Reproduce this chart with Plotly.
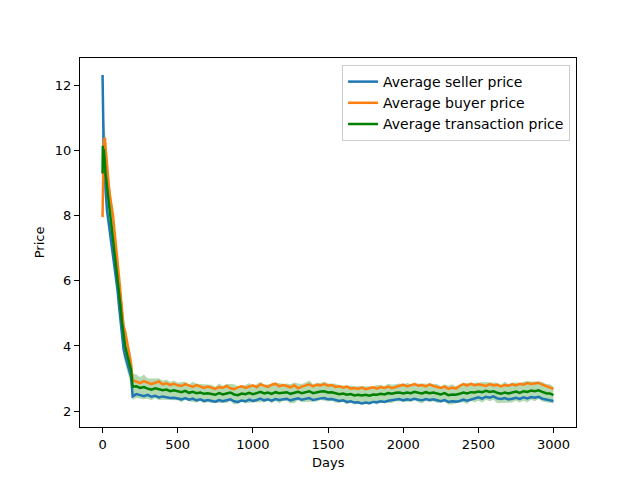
import plotly.graph_objects as go

# Day index of each sample (early descent sampled finer than the plateau)
days = [0, 2, 4, 8, 12, 16, 20] + list(range(30, 201, 10)) + list(range(225, 2976, 25)) + [2999]

seller_price = [
    12.33, 11.4, 10.4, 9.9, 9.6, 9.1, 8.8,
    8.15, 7.8, 7.5, 7.15, 6.85, 6.5, 6.15, 5.7, 5.2, 4.75, 4.3, 3.9, 3.7, 3.5, 3.35, 3.2, 3.05, 2.45,
    2.52, 2.48, 2.46, 2.50, 2.44, 2.47, 2.42, 2.45, 2.43, 2.40,
    2.41, 2.38, 2.36, 2.40, 2.35, 2.38, 2.33, 2.36, 2.31, 2.34,
    2.32, 2.29, 2.34, 2.30, 2.33, 2.36, 2.30, 2.28, 2.32, 2.30,
    2.35, 2.31, 2.34, 2.38, 2.33, 2.36, 2.32, 2.37, 2.34, 2.36,
    2.38, 2.33, 2.36, 2.39, 2.35, 2.38, 2.40, 2.34, 2.37, 2.39,
    2.40, 2.36, 2.37, 2.34, 2.31, 2.33, 2.28, 2.30, 2.26, 2.27,
    2.23, 2.26, 2.24, 2.28, 2.27, 2.30, 2.28, 2.32, 2.33, 2.35,
    2.37, 2.33, 2.36, 2.34, 2.38, 2.35, 2.33, 2.37, 2.34, 2.36,
    2.33, 2.30, 2.34, 2.28, 2.30, 2.29, 2.31, 2.35, 2.32, 2.36,
    2.39, 2.42, 2.38, 2.44, 2.41, 2.45, 2.39, 2.37, 2.40, 2.36,
    2.38, 2.41, 2.37, 2.42, 2.39, 2.43, 2.41, 2.44, 2.38, 2.35,
    2.34, 2.31,
]

buyer_price = [
    7.96, 9.0, 9.8, 10.2, 10.35, 10.4, 10.1,
    9.5, 9.0, 8.6, 8.3, 8.0, 7.5, 7.1, 6.6, 6.1, 5.6, 5.1, 4.6, 4.45, 4.2, 3.95, 3.75, 3.45, 2.95,
    2.90, 2.86, 2.92, 2.88, 2.83, 2.87, 2.91, 2.82, 2.85, 2.80,
    2.84, 2.79, 2.77, 2.83, 2.78, 2.74, 2.80, 2.76, 2.71, 2.75,
    2.72, 2.68, 2.74, 2.71, 2.77, 2.70, 2.67, 2.73, 2.76, 2.71,
    2.75, 2.79, 2.73, 2.82, 2.78, 2.74, 2.81, 2.84, 2.76, 2.80,
    2.77, 2.73, 2.79, 2.70, 2.75, 2.78, 2.82, 2.76, 2.81, 2.79,
    2.83, 2.78, 2.80, 2.74, 2.76, 2.72, 2.75, 2.69, 2.71, 2.68,
    2.72, 2.67, 2.70, 2.73, 2.69, 2.74, 2.71, 2.75, 2.70, 2.73,
    2.77, 2.81, 2.76, 2.79, 2.83, 2.78, 2.80, 2.76, 2.82, 2.77,
    2.74, 2.71, 2.75, 2.68, 2.72, 2.69, 2.77, 2.83, 2.78, 2.84,
    2.79, 2.82, 2.80, 2.77, 2.83, 2.79, 2.81, 2.76, 2.80, 2.78,
    2.82, 2.79, 2.84, 2.81, 2.86, 2.83, 2.85, 2.87, 2.81, 2.77,
    2.73, 2.68,
]

transaction_price = [
    9.3, 10.15, 9.6, 10.05, 9.9, 9.6, 9.3,
    8.9, 8.45, 8.05, 7.7, 7.4, 7.0, 6.6, 6.15, 5.65, 5.2, 4.7, 4.25, 4.0, 3.8, 3.6, 3.45, 3.25, 2.75,
    2.76, 2.71, 2.74, 2.69, 2.66, 2.70, 2.67, 2.64, 2.66, 2.61,
    2.64, 2.60, 2.58, 2.62, 2.56, 2.59, 2.55, 2.57, 2.53, 2.55,
    2.53, 2.50, 2.55, 2.51, 2.54, 2.57, 2.51, 2.49, 2.54, 2.52,
    2.56, 2.52, 2.55, 2.59, 2.54, 2.57, 2.53, 2.58, 2.55, 2.57,
    2.58, 2.53, 2.56, 2.59, 2.55, 2.58, 2.61, 2.55, 2.58, 2.60,
    2.61, 2.57, 2.58, 2.55, 2.52, 2.54, 2.50, 2.52, 2.48, 2.50,
    2.48, 2.50, 2.47, 2.51, 2.50, 2.53, 2.51, 2.55, 2.53, 2.56,
    2.57, 2.54, 2.57, 2.55, 2.59, 2.56, 2.54, 2.58, 2.55, 2.57,
    2.54, 2.51, 2.55, 2.49, 2.51, 2.50, 2.53, 2.57, 2.54, 2.58,
    2.57, 2.60, 2.58, 2.62, 2.59, 2.61, 2.56, 2.53, 2.57, 2.54,
    2.57, 2.60, 2.56, 2.61, 2.59, 2.63, 2.61, 2.64, 2.59, 2.55,
    2.54, 2.49,
]

# Spread of the transaction price (drawn as the shaded band)
transaction_std = [
    0.5, 0.9, 1.05, 1.0, 0.95, 0.9, 0.9,
    0.85, 0.8, 0.8, 0.75, 0.75, 0.7, 0.7, 0.7, 0.65, 0.65, 0.6, 0.6, 0.55, 0.55, 0.5, 0.5, 0.45, 0.4,
    0.36, 0.33, 0.38, 0.31, 0.33, 0.30, 0.34, 0.29, 0.31, 0.28,
    0.30, 0.27, 0.31, 0.28, 0.26, 0.31, 0.29, 0.26, 0.30, 0.27,
    0.28, 0.25, 0.30, 0.27, 0.29, 0.26, 0.31, 0.27, 0.25, 0.28,
    0.30, 0.26, 0.28, 0.31, 0.27, 0.25, 0.29, 0.27, 0.31, 0.26,
    0.27, 0.29, 0.32, 0.26, 0.28, 0.30, 0.33, 0.27, 0.29, 0.26,
    0.30, 0.28, 0.26, 0.29, 0.27, 0.25, 0.30, 0.26, 0.28, 0.27,
    0.29, 0.26, 0.28, 0.25, 0.30, 0.27, 0.26, 0.29, 0.28, 0.26,
    0.28, 0.26, 0.30, 0.27, 0.25, 0.29, 0.31, 0.26, 0.28, 0.27,
    0.29, 0.25, 0.27, 0.29, 0.31, 0.26, 0.28, 0.30, 0.32, 0.27,
    0.30, 0.28, 0.32, 0.27, 0.29, 0.26, 0.31, 0.28, 0.33, 0.29,
    0.31, 0.28, 0.30, 0.29, 0.33, 0.28, 0.31, 0.27, 0.30, 0.28,
    0.28, 0.26,
]

band_upper = [m + s for m, s in zip(transaction_price, transaction_std)]
band_lower = [m - s for m, s in zip(transaction_price, transaction_std)]

fig = go.Figure()

# shaded band: lower edge first, then upper filled down to it
fig.add_trace(go.Scatter(x=days, y=band_lower, mode='lines', line=dict(width=0),
                         showlegend=False, hoverinfo='skip'))
fig.add_trace(go.Scatter(x=days, y=band_upper, mode='lines', line=dict(width=0),
                         fill='tonexty', fillcolor='rgba(0,128,0,0.3)',
                         showlegend=False, hoverinfo='skip'))

fig.add_trace(go.Scatter(x=days, y=seller_price, mode='lines',
                         line=dict(color='#1f77b4', width=2.5), name='Average seller price'))
fig.add_trace(go.Scatter(x=days, y=buyer_price, mode='lines',
                         line=dict(color='#ff7f0e', width=2.5), name='Average buyer price'))
fig.add_trace(go.Scatter(x=days, y=transaction_price, mode='lines',
                         line=dict(color='green', width=2.5), name='Average transaction price'))

axis_style = dict(showline=True, linecolor='black', linewidth=1, mirror=True,
                  ticks='outside', ticklen=5, tickcolor='black', showgrid=False,
                  zeroline=False, automargin=False, tickfont=dict(size=13, color='black'))

# page body adds an 8px offset, so the margins are shifted to compensate
fig.update_layout(
    width=640, height=480,
    margin=dict(l=72, r=72, t=50, b=61),
    paper_bgcolor='white', plot_bgcolor='white',
    font=dict(family='DejaVu Sans', size=13, color='black'),
    showlegend=True,
    legend=dict(x=0.988, y=0.981, xanchor='right', yanchor='top', traceorder='normal',
                bgcolor='rgba(255,255,255,0.8)', bordercolor='#cccccc', borderwidth=1,
                font=dict(size=14)),
    xaxis=dict(range=[-150, 3149], tickvals=[0, 500, 1000, 1500, 2000, 2500, 3000], **axis_style),
    yaxis=dict(range=[1.51, 12.85], tickvals=[2, 4, 6, 8, 10, 12], **axis_style),
    annotations=[
        dict(text='Days', xref='paper', yref='paper', x=0.5, y=-0.095,
             xanchor='center', yanchor='middle', showarrow=False, font=dict(size=13)),
        dict(text='Price', xref='paper', yref='paper', x=-0.081, y=0.5, textangle=-90,
             xanchor='center', yanchor='middle', showarrow=False, font=dict(size=13)),
    ],
)

fig.write_html("out.html")
